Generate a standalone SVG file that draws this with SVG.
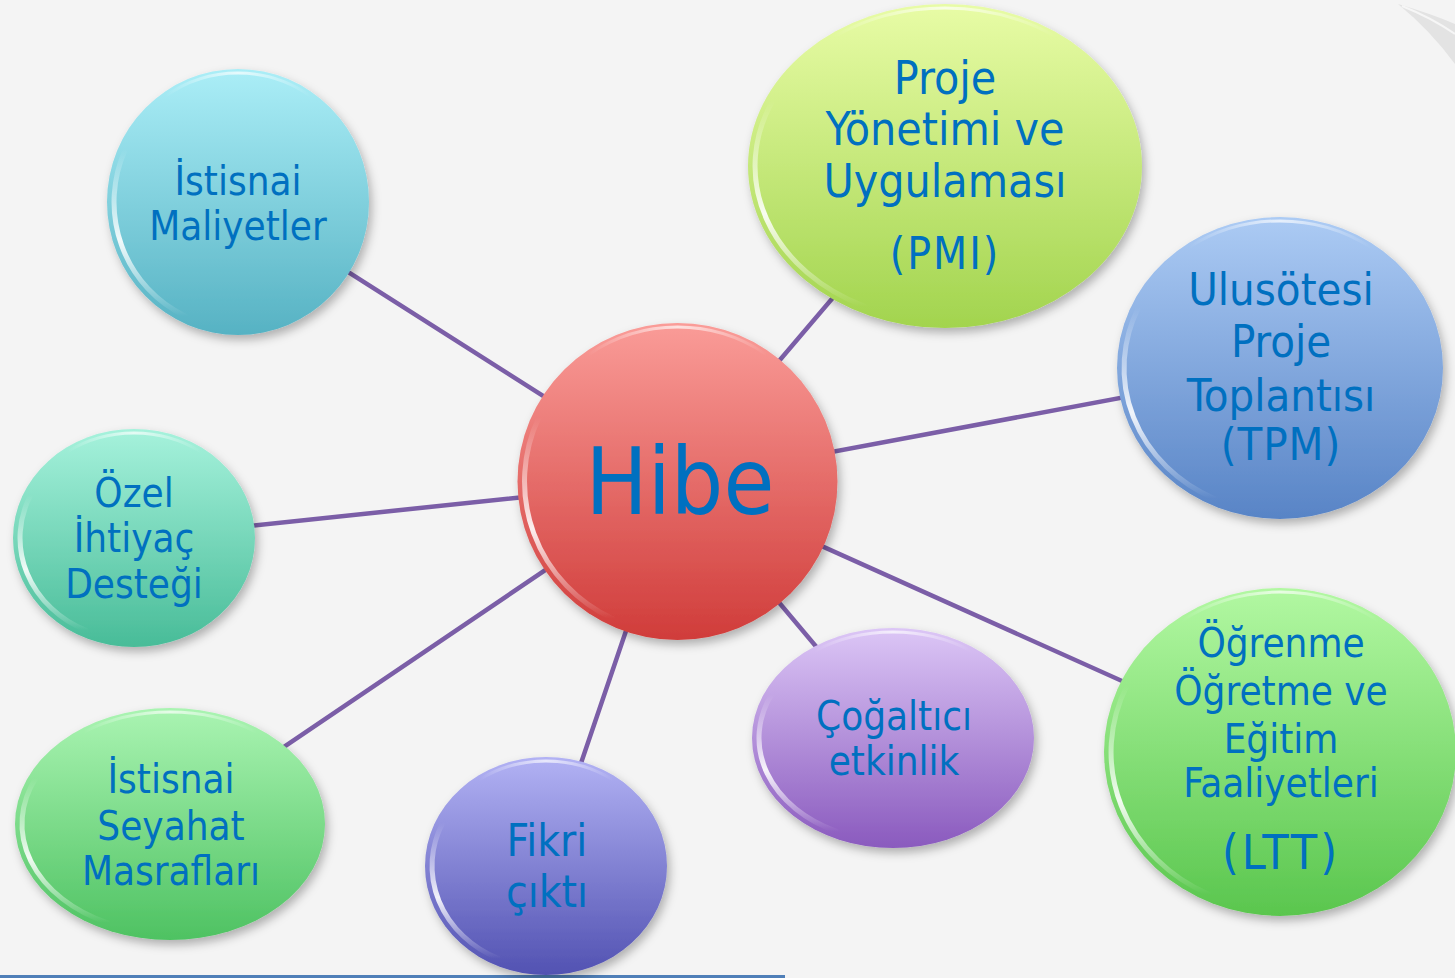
<svg xmlns="http://www.w3.org/2000/svg" width="1455" height="978" viewBox="0 0 1455 978">
<style>
.lbl{font-family:"DejaVu Sans Condensed","DejaVu Sans",sans-serif;font-stretch:condensed;fill:#0070c0;text-anchor:middle}
.conn{stroke:#7b5ea7;stroke-width:4.5;fill:none;stroke-linecap:round}
.rim{fill:none;stroke:url(#hlv);stroke-width:5;stroke-linecap:round}
.rimt{fill:none;stroke:url(#hlh);stroke-width:3;stroke-linecap:round}
.b{filter:url(#sh)}
</style>
<defs>
<filter id="sh" x="-20%" y="-20%" width="140%" height="140%">
<feDropShadow dx="3" dy="5" stdDeviation="5" flood-color="#000" flood-opacity="0.28"/>
</filter>
<linearGradient id="hlv" x1="0" y1="0" x2="0" y2="1">
<stop offset="0" stop-color="#fff" stop-opacity="0"/>
<stop offset="0.55" stop-color="#fff" stop-opacity="0.9"/>
<stop offset="1" stop-color="#fff" stop-opacity="0"/>
</linearGradient>
<linearGradient id="hlh" x1="0" y1="0" x2="1" y2="0">
<stop offset="0" stop-color="#fff" stop-opacity="0"/>
<stop offset="0.5" stop-color="#fff" stop-opacity="0.7"/>
<stop offset="1" stop-color="#fff" stop-opacity="0"/>
</linearGradient>
<linearGradient id="gMal" x1="0" y1="0" x2="0" y2="1"><stop offset="0" stop-color="#abeef7"/><stop offset="1" stop-color="#56b2c3"/></linearGradient>
<linearGradient id="gPmi" x1="0" y1="0" x2="0" y2="1"><stop offset="0" stop-color="#e8fca6"/><stop offset="1" stop-color="#a2d44e"/></linearGradient>
<linearGradient id="gTpm" x1="0" y1="0" x2="0" y2="1"><stop offset="0" stop-color="#accbf4"/><stop offset="1" stop-color="#5884c6"/></linearGradient>
<linearGradient id="gOze" x1="0" y1="0" x2="0" y2="1"><stop offset="0" stop-color="#a6f2dc"/><stop offset="1" stop-color="#48bc98"/></linearGradient>
<linearGradient id="gLtt" x1="0" y1="0" x2="0" y2="1"><stop offset="0" stop-color="#b2f8a2"/><stop offset="1" stop-color="#5ac64e"/></linearGradient>
<linearGradient id="gCog" x1="0" y1="0" x2="0" y2="1"><stop offset="0" stop-color="#dcc6f6"/><stop offset="1" stop-color="#8a5abe"/></linearGradient>
<linearGradient id="gSey" x1="0" y1="0" x2="0" y2="1"><stop offset="0" stop-color="#aaf4b2"/><stop offset="1" stop-color="#4ec262"/></linearGradient>
<linearGradient id="gFik" x1="0" y1="0" x2="0" y2="1"><stop offset="0" stop-color="#b2b2f4"/><stop offset="1" stop-color="#5252b2"/></linearGradient>
<linearGradient id="gHib" x1="0" y1="0" x2="0" y2="1"><stop offset="0" stop-color="#fa9c98"/><stop offset="1" stop-color="#d03c3a"/></linearGradient>
</defs>
<rect x="0" y="0" width="1455" height="978" fill="#f4f4f4"/>
<path d="M1398,4 Q1432,14 1455,24 L1455,64 Q1430,30 1398,4 Z" fill="#e3e3e3"/>
<path d="M1402,6 Q1432,18 1455,34" fill="none" stroke="#f6f6f6" stroke-width="2"/>
<rect x="0" y="975" width="785" height="3" fill="#4f7fb8"/>

<g id="connectors">
<line class="conn" x1="677" y1="481" x2="238" y2="202"/>
<line class="conn" x1="677" y1="481" x2="945" y2="166"/>
<line class="conn" x1="677" y1="481" x2="1280" y2="368"/>
<line class="conn" x1="677" y1="481" x2="134" y2="538"/>
<line class="conn" x1="677" y1="481" x2="1280" y2="752"/>
<line class="conn" x1="677" y1="481" x2="893" y2="738"/>
<line class="conn" x1="677" y1="481" x2="170" y2="824"/>
<line class="conn" x1="677" y1="481" x2="546" y2="866"/>
</g>

<g id="node-maliyet">
<ellipse class="b" cx="238" cy="202" rx="131" ry="133" fill="url(#gMal)"/>
<path class="rim" d="M125.7,148.7 A124,126 0 0 0 185.5,316.2"/>
<path class="rimt" d="M165.1,96.3 A127,129 0 0 1 310.9,96.3"/>
<text class="lbl" font-size="40" x="238" y="195">İstisnai</text>
<text class="lbl" font-size="40" x="238" y="240">Maliyetler</text>
</g>

<g id="node-pmi">
<ellipse class="b" cx="945" cy="166" rx="197" ry="162" fill="url(#gPmi)"/>
<path class="rim" d="M772.9,100.4 A190,155 0 0 0 864.6,306.4"/>
<path class="rimt" d="M834.2,36.6 A193,158 0 0 1 1055.8,36.6"/>
<text class="lbl" font-size="46" x="945" y="94">Proje</text>
<text class="lbl" font-size="46" x="945" y="145">Yönetimi ve</text>
<text class="lbl" font-size="46" x="945" y="197">Uygulaması</text>
<text class="lbl" font-size="44" x="945" y="269" letter-spacing="2">(PMI)</text>
</g>

<g id="node-tpm">
<ellipse class="b" cx="1280" cy="368" rx="163" ry="151" fill="url(#gTpm)"/>
<path class="rim" d="M1138.7,307.1 A156,144 0 0 0 1214,498.5"/>
<path class="rimt" d="M1188.7,247.6 A159,147 0 0 1 1371.3,247.6"/>
<text class="lbl" font-size="45" x="1281" y="305">Ulusötesi</text>
<text class="lbl" font-size="45" x="1281" y="357">Proje</text>
<text class="lbl" font-size="45" x="1281" y="411">Toplantısı</text>
<text class="lbl" font-size="45" x="1281" y="460" letter-spacing="1">(TPM)</text>
</g>

<g id="node-ozel">
<ellipse class="b" cx="134" cy="538" rx="121" ry="109" fill="url(#gOze)"/>
<path class="rim" d="M30.7,494.9 A114,102 0 0 0 85.8,630.4"/>
<path class="rimt" d="M66.8,452 A117,105 0 0 1 201.2,452"/>
<text class="lbl" font-size="40" x="134" y="507">Özel</text>
<text class="lbl" font-size="40" x="134" y="552">İhtiyaç</text>
<text class="lbl" font-size="40" x="134" y="598">Desteği</text>
</g>

<g id="node-ltt">
<ellipse class="b" cx="1280" cy="752" rx="176" ry="164" fill="url(#gLtt)"/>
<path class="rim" d="M1126.9,685.6 A169,157 0 0 0 1208.5,894.2"/>
<path class="rimt" d="M1181.3,621 A172,160 0 0 1 1378.7,621"/>
<text class="lbl" font-size="40" x="1281" y="657">Öğrenme</text>
<text class="lbl" font-size="40" x="1281" y="705">Öğretme ve</text>
<text class="lbl" font-size="40" x="1281" y="753">Eğitim</text>
<text class="lbl" font-size="40" x="1281" y="797">Faaliyetleri</text>
<text class="lbl" font-size="48" x="1281" y="869" letter-spacing="3">(LTT)</text>
</g>

<g id="node-cogaltici">
<ellipse class="b" cx="893" cy="738" rx="141" ry="110" fill="url(#gCog)"/>
<path class="rim" d="M771.6,694.4 A134,103 0 0 0 836.3,831.3"/>
<path class="rimt" d="M814.4,651.2 A137,106 0 0 1 971.6,651.2"/>
<text class="lbl" font-size="40" x="894" y="730">Çoğaltıcı</text>
<text class="lbl" font-size="40" x="894" y="775">etkinlik</text>
</g>

<g id="node-seyahat">
<ellipse class="b" cx="170" cy="824" rx="155" ry="116" fill="url(#gSey)"/>
<path class="rim" d="M35.9,777.9 A148,109 0 0 0 107.4,922.8"/>
<path class="rimt" d="M83.3,732.3 A151,112 0 0 1 256.7,732.3"/>
<text class="lbl" font-size="40" x="171" y="793">İstisnai</text>
<text class="lbl" font-size="40" x="171" y="840">Seyahat</text>
<text class="lbl" font-size="40" x="171" y="885">Masrafları</text>
</g>

<g id="node-fikri">
<ellipse class="b" cx="546" cy="866" rx="121" ry="109" fill="url(#gFik)"/>
<path class="rim" d="M442.7,822.9 A114,102 0 0 0 497.8,958.4"/>
<path class="rimt" d="M478.8,780 A117,105 0 0 1 613.2,780"/>
<text class="lbl" font-size="44" x="547" y="856">Fikri</text>
<text class="lbl" font-size="44" x="547" y="907">çıktı</text>
</g>

<g id="node-hibe">
<ellipse class="b" cx="677.5" cy="481.5" rx="160" ry="158.5" fill="url(#gHib)"/>
<path class="rim" d="M538.9,417.4 A153,151.5 0 0 0 612.8,618.8"/>
<path class="rimt" d="M588,355 A156,154.5 0 0 1 767,355"/>
<text class="lbl" font-size="92" x="680" y="514">Hibe</text>
</g>
</svg>
